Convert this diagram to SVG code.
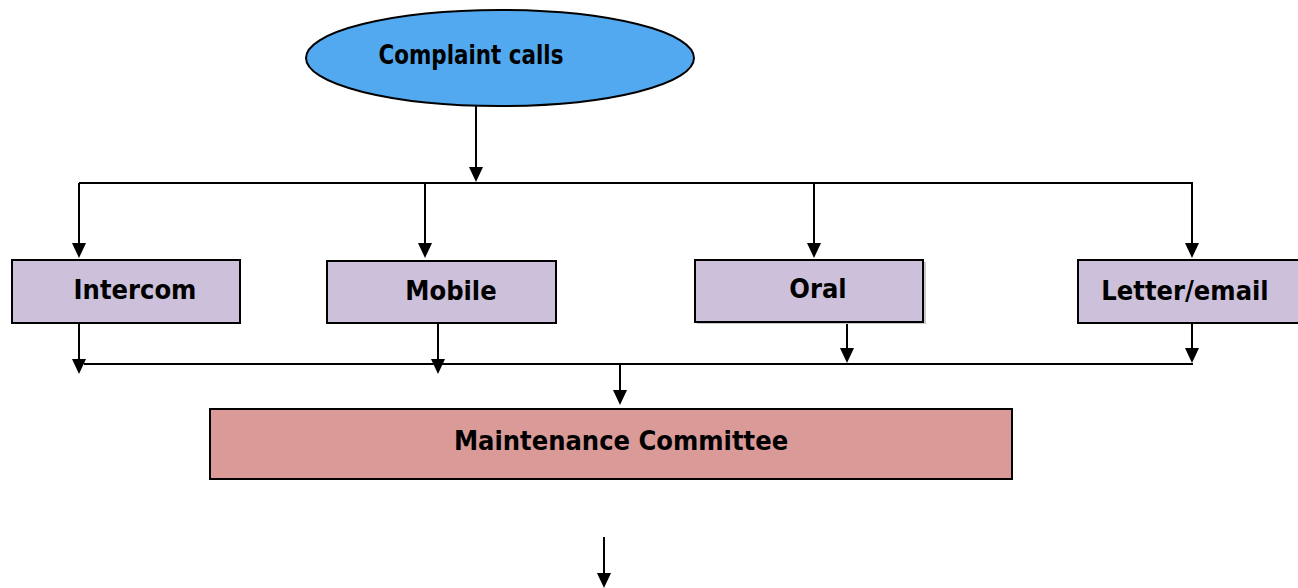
<svg xmlns="http://www.w3.org/2000/svg" width="1298" height="588" viewBox="0 0 1298 588">
<style>
.ln{stroke:#000;stroke-width:2;fill:none}
.ah{fill:#000}
.box{fill:#ccc0da;stroke:#000;stroke-width:2}
.t{font-family:"DejaVu Sans Condensed","DejaVu Sans",sans-serif;font-weight:bold;font-size:27px;fill:#000;text-anchor:middle}
</style>
<g id="connectors">
<line class="ln" x1="476" y1="106" x2="476" y2="170"/><path class="ah" d="M469,167 L483,167 L476,182 Z"/>
<line class="ln" x1="79" y1="183" x2="1193" y2="183"/>
<line class="ln" x1="79" y1="183" x2="79" y2="246"/><path class="ah" d="M72,243 L86,243 L79,258 Z"/>
<line class="ln" x1="425" y1="183" x2="425" y2="246"/><path class="ah" d="M418,243 L432,243 L425,258 Z"/>
<line class="ln" x1="814" y1="183" x2="814" y2="246"/><path class="ah" d="M807,243 L821,243 L814,258 Z"/>
<line class="ln" x1="1192" y1="183" x2="1192" y2="246"/><path class="ah" d="M1185,243 L1199,243 L1192,258 Z"/>
<line class="ln" x1="79" y1="323" x2="79" y2="362"/><path class="ah" d="M72,359 L86,359 L79,374 Z"/>
<line class="ln" x1="438" y1="323" x2="438" y2="362"/><path class="ah" d="M431,359 L445,359 L438,374 Z"/>
<line class="ln" x1="847" y1="313" x2="847" y2="351"/><path class="ah" d="M840,348 L854,348 L847,363 Z"/>
<line class="ln" x1="1192" y1="313" x2="1192" y2="351"/><path class="ah" d="M1185,348 L1199,348 L1192,363 Z"/>
<line class="ln" x1="84" y1="364" x2="1193" y2="364"/>
<line class="ln" x1="620" y1="364" x2="620" y2="393"/><path class="ah" d="M613,390 L627,390 L620,405 Z"/>
<line class="ln" x1="604" y1="537" x2="604" y2="576"/><path class="ah" d="M597,573 L611,573 L604,588 Z"/>
</g>
<g id="complaint">
<ellipse cx="500" cy="58" rx="194" ry="48" fill="#52a9ef" stroke="#000" stroke-width="2"/>
<text class="t" x="471" y="64" style="font-size:27px" textLength="185" lengthAdjust="spacingAndGlyphs">Complaint calls</text>
</g>
<g id="intercom">
<rect class="box" x="12" y="260" width="228" height="63"/>
<text class="t" x="135" y="299">Intercom</text>
</g>
<g id="mobile">
<rect class="box" x="327" y="261" width="229" height="62"/>
<text class="t" x="451" y="300">Mobile</text>
</g>
<g id="oral">
<rect x="697" y="262" width="229" height="62" fill="#c8c8c8"/>
<rect class="box" x="695" y="260" width="228" height="62"/>
<text class="t" x="818" y="298">Oral</text>
</g>
<g id="letter">
<rect class="box" x="1078" y="260" width="230" height="63"/>
<text class="t" x="1185" y="300">Letter/email</text>
</g>
<g id="maintenance">
<rect x="210" y="409" width="802" height="70" fill="#da9a98" stroke="#000" stroke-width="2"/>
<text class="t" x="621" y="450">Maintenance Committee</text>
</g>
</svg>
